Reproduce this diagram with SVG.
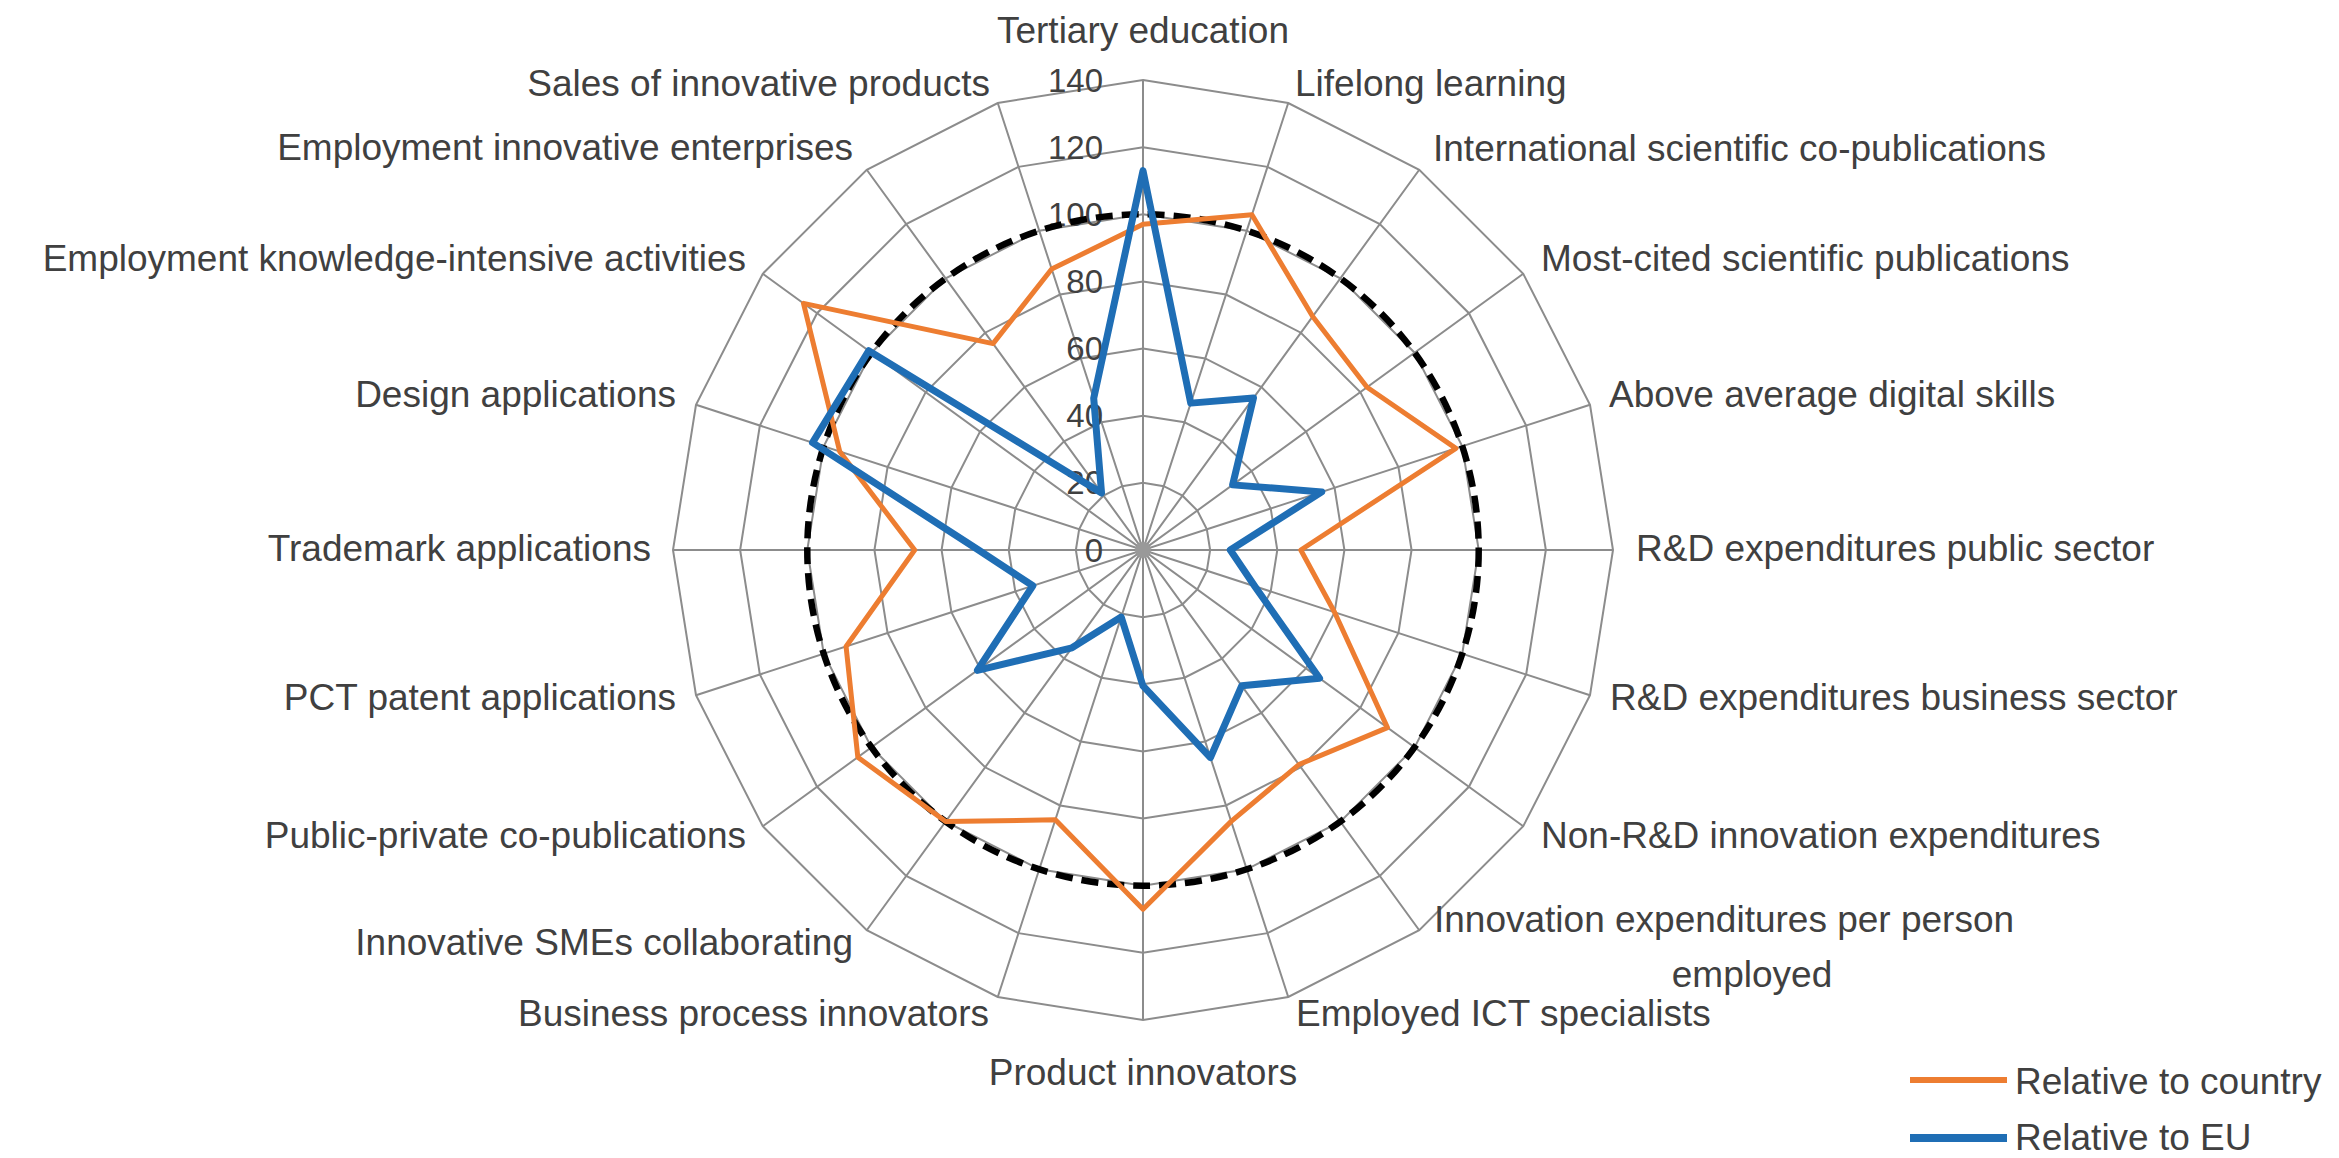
<svg xmlns="http://www.w3.org/2000/svg" width="2339" height="1158" viewBox="0 0 2339 1158">
<style>
.ring{fill:none;stroke:#8c8c8c;stroke-width:2}
.axis{fill:none;stroke:#8c8c8c;stroke-width:2}
.lbl{font-family:"Liberation Sans",Arial,sans-serif;font-size:37px;fill:#404040}
.tick{font-family:"Liberation Sans",Arial,sans-serif;font-size:33px;fill:#404040;text-anchor:end}
.orange{fill:none;stroke:#ED7D31;stroke-width:5;stroke-linejoin:round}
.blue{fill:none;stroke:#1F6EB5;stroke-width:7;stroke-linejoin:round}
.ref{fill:none;stroke:#000;stroke-width:6.5;stroke-dasharray:17 9}
</style>
<rect width="2339" height="1158" fill="#fff"/>
<g id="grid" transform="translate(1143,550)">
<polygon class="ring" points="0,-67.14 20.75,-63.85 39.46,-54.32 54.32,-39.46 63.85,-20.75 67.14,0 63.85,20.75 54.32,39.46 39.46,54.32 20.75,63.85 0,67.14 -20.75,63.85 -39.46,54.32 -54.32,39.46 -63.85,20.75 -67.14,0 -63.85,-20.75 -54.32,-39.46 -39.46,-54.32 -20.75,-63.85"/>
<polygon class="ring" points="0,-134.29 41.5,-127.72 78.93,-108.64 108.64,-78.93 127.72,-41.5 134.29,0 127.72,41.5 108.64,78.93 78.93,108.64 41.5,127.72 0,134.29 -41.5,127.72 -78.93,108.64 -108.64,78.93 -127.72,41.5 -134.29,0 -127.72,-41.5 -108.64,-78.93 -78.93,-108.64 -41.5,-127.72"/>
<polygon class="ring" points="0,-201.43 62.25,-191.57 118.4,-162.96 162.96,-118.4 191.57,-62.25 201.43,0 191.57,62.25 162.96,118.4 118.4,162.96 62.25,191.57 0,201.43 -62.25,191.57 -118.4,162.96 -162.96,118.4 -191.57,62.25 -201.43,0 -191.57,-62.25 -162.96,-118.4 -118.4,-162.96 -62.25,-191.57"/>
<polygon class="ring" points="0,-268.57 82.99,-255.43 157.86,-217.28 217.28,-157.86 255.43,-82.99 268.57,0 255.43,82.99 217.28,157.86 157.86,217.28 82.99,255.43 0,268.57 -82.99,255.43 -157.86,217.28 -217.28,157.86 -255.43,82.99 -268.57,0 -255.43,-82.99 -217.28,-157.86 -157.86,-217.28 -82.99,-255.43"/>
<polygon class="ring" points="0,-335.71 103.74,-319.28 197.33,-271.6 271.6,-197.33 319.28,-103.74 335.71,0 319.28,103.74 271.6,197.33 197.33,271.6 103.74,319.28 0,335.71 -103.74,319.28 -197.33,271.6 -271.6,197.33 -319.28,103.74 -335.71,0 -319.28,-103.74 -271.6,-197.33 -197.33,-271.6 -103.74,-319.28"/>
<polygon class="ring" points="0,-402.86 124.49,-383.14 236.8,-325.92 325.92,-236.8 383.14,-124.49 402.86,0 383.14,124.49 325.92,236.8 236.8,325.92 124.49,383.14 0,402.86 -124.49,383.14 -236.8,325.92 -325.92,236.8 -383.14,124.49 -402.86,0 -383.14,-124.49 -325.92,-236.8 -236.8,-325.92 -124.49,-383.14"/>
<polygon class="ring" points="0,-470 145.24,-447 276.26,-380.24 380.24,-276.26 447,-145.24 470,0 447,145.24 380.24,276.26 276.26,380.24 145.24,447 0,470 -145.24,447 -276.26,380.24 -380.24,276.26 -447,145.24 -470,0 -447,-145.24 -380.24,-276.26 -276.26,-380.24 -145.24,-447"/>
<path class="axis" d="M0,-470L0,470M145.24,-447L-145.24,447M276.26,-380.24L-276.26,380.24M380.24,-276.26L-380.24,276.26M447,-145.24L-447,145.24M470,0L-470,0M447,145.24L-447,-145.24M380.24,276.26L-380.24,-276.26M276.26,380.24L-276.26,-380.24M145.24,447L-145.24,-447"/>
<circle r="8" fill="#999"/>
</g>
<g id="ticks">
<text class="tick" x="1103" y="561.5">0</text>
<text class="tick" x="1103" y="494.4">20</text>
<text class="tick" x="1103" y="427.2">40</text>
<text class="tick" x="1103" y="360.1">60</text>
<text class="tick" x="1103" y="292.9">80</text>
<text class="tick" x="1103" y="225.8">100</text>
<text class="tick" x="1103" y="158.6">120</text>
<text class="tick" x="1103" y="91.5">140</text>
</g>
<g id="connectors" transform="translate(1143,550)">
<circle id="series-reference" class="ref" r="335.71"/>
<polygon id="series-country" class="orange" points="0,-325.64 108.93,-335.25 169.7,-233.57 224.07,-162.8 312.9,-101.67 157.78,0 191.57,62.25 244.44,177.6 155.89,214.56 88.18,271.38 0,359.21 -87.66,269.79 -197.33,271.6 -285.18,207.2 -296.93,96.48 -228.28,0 -303.31,-98.55 -339.5,-246.66 -149.97,-206.41 -91.29,-280.96"/>
<polygon id="series-eu" class="blue" points="0,-379.35 47.72,-146.87 110.5,-152.1 89.62,-65.12 178.8,-58.1 87.28,0 111.75,36.31 176.54,128.26 98.67,135.8 67.43,207.53 0,135.96 -21.79,67.05 -71.04,97.78 -165.67,120.37 -110.15,35.79 -164.5,0 -330.46,-107.37 -274.31,-199.3 -41.44,-57.04 -49.28,-151.66"/>
</g>
<g id="labels" class="lbl">
<text id="l0" x="1143" y="43" text-anchor="middle">Tertiary education</text>
<text id="l1" x="1295" y="96">Lifelong learning</text>
<text id="l2" x="1433" y="161">International scientific co-publications</text>
<text id="l3" x="1541" y="271">Most-cited scientific publications</text>
<text id="l4" x="1609" y="407">Above average digital skills</text>
<text id="l5" x="1636" y="561">R&amp;D expenditures public sector</text>
<text id="l6" x="1610" y="710">R&amp;D expenditures business sector</text>
<text id="l7" x="1541" y="848">Non-R&amp;D innovation expenditures</text>
<text id="l8" x="1434" y="932">Innovation expenditures per person</text>
<text id="l8b" x="1752" y="987" text-anchor="middle">employed</text>
<text id="l9" x="1296" y="1026">Employed ICT specialists</text>
<text id="l10" x="1143" y="1085" text-anchor="middle">Product innovators</text>
<text id="l11" x="989" y="1026" text-anchor="end">Business process innovators</text>
<text id="l12" x="853" y="955" text-anchor="end">Innovative SMEs collaborating</text>
<text id="l13" x="746" y="848" text-anchor="end">Public-private co-publications</text>
<text id="l14" x="676" y="710" text-anchor="end">PCT patent applications</text>
<text id="l15" x="651" y="561" text-anchor="end">Trademark applications</text>
<text id="l16" x="676" y="407" text-anchor="end">Design applications</text>
<text id="l17" x="746" y="271" text-anchor="end">Employment knowledge-intensive activities</text>
<text id="l18" x="853" y="160" text-anchor="end">Employment innovative enterprises</text>
<text id="l19" x="990" y="96" text-anchor="end">Sales of innovative products</text>
</g>
<g id="legend">
<line x1="1910" y1="1080" x2="2007" y2="1080" stroke="#ED7D31" stroke-width="6"/>
<text class="lbl" x="2015" y="1094">Relative to country</text>
<line x1="1910" y1="1138" x2="2007" y2="1138" stroke="#1F6EB5" stroke-width="8"/>
<text class="lbl" x="2015" y="1150">Relative to EU</text>
</g>
</svg>
